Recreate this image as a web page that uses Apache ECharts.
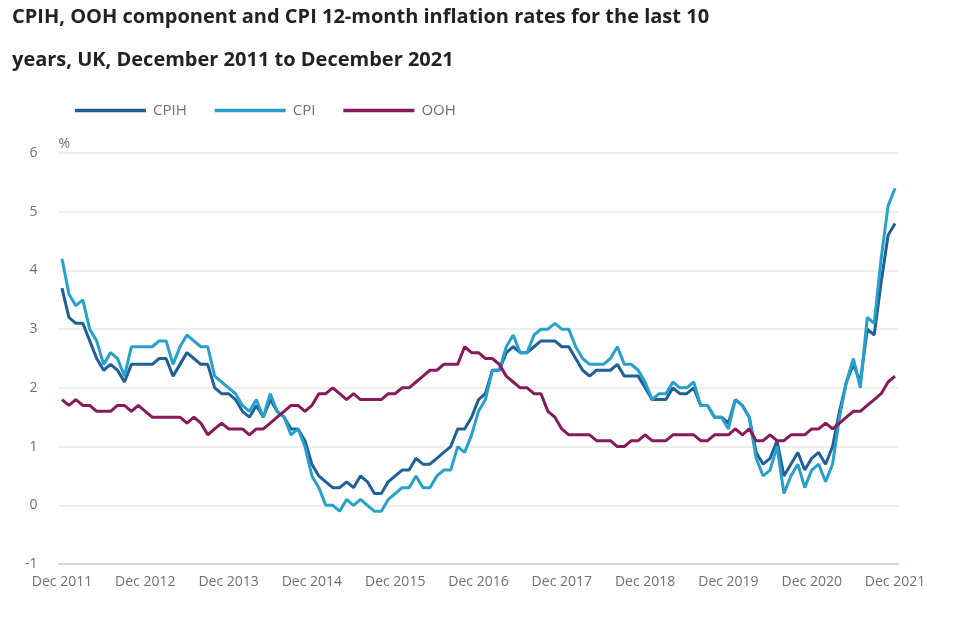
<!DOCTYPE html>
<html>
<head>
<meta charset="utf-8">
<script src="https://cdn.jsdelivr.net/npm/echarts@6/dist/echarts.min.js"></script>
<style>
html,body{margin:0;padding:0;background:#fff;}
#chart{width:960px;height:619px;}
</style>
</head>
<body>
<div id="chart"></div>
<script>
// Monthly categories, Dec 2011 to Dec 2021
const monthNames = ['Jan','Feb','Mar','Apr','May','Jun','Jul','Aug','Sep','Oct','Nov','Dec'];
const startYear = 2011, startMonth = 11, monthCount = 121;
const categories = [];
for (let i = 0; i < monthCount; i++) {
  const m = (startMonth + i) % 12;
  const y = startYear + Math.floor((startMonth + i) / 12);
  categories.push(monthNames[m] + ' ' + y);
}

const cpih = [
  3.7,
  3.2,3.1,3.1,2.8,2.5,2.3,2.4,2.3,2.1,2.4,2.4,2.4,
  2.4,2.5,2.5,2.2,2.4,2.6,2.5,2.4,2.4,2.0,1.9,1.9,
  1.8,1.6,1.5,1.7,1.5,1.8,1.6,1.5,1.3,1.3,1.1,0.7,
  0.5,0.4,0.3,0.3,0.4,0.3,0.5,0.4,0.2,0.2,0.4,0.5,
  0.6,0.6,0.8,0.7,0.7,0.8,0.9,1.0,1.3,1.3,1.5,1.8,
  1.9,2.3,2.3,2.6,2.7,2.6,2.6,2.7,2.8,2.8,2.8,2.7,
  2.7,2.5,2.3,2.2,2.3,2.3,2.3,2.4,2.2,2.2,2.2,2.0,
  1.8,1.8,1.8,2.0,1.9,1.9,2.0,1.7,1.7,1.5,1.5,1.4,
  1.8,1.7,1.5,0.9,0.7,0.8,1.1,0.5,0.7,0.9,0.6,0.8,
  0.9,0.7,1.0,1.6,2.1,2.4,2.1,3.0,2.9,3.8,4.6,4.8
];
const cpi = [
  4.2,
  3.6,3.4,3.5,3.0,2.8,2.4,2.6,2.5,2.2,2.7,2.7,2.7,
  2.7,2.8,2.8,2.4,2.7,2.9,2.8,2.7,2.7,2.2,2.1,2.0,
  1.9,1.7,1.6,1.8,1.5,1.9,1.6,1.5,1.2,1.3,1.0,0.5,
  0.3,0.0,0.0,-0.1,0.1,0.0,0.1,0.0,-0.1,-0.1,0.1,0.2,
  0.3,0.3,0.5,0.3,0.3,0.5,0.6,0.6,1.0,0.9,1.2,1.6,
  1.8,2.3,2.3,2.7,2.9,2.6,2.6,2.9,3.0,3.0,3.1,3.0,
  3.0,2.7,2.5,2.4,2.4,2.4,2.5,2.7,2.4,2.4,2.3,2.1,
  1.8,1.9,1.9,2.1,2.0,2.0,2.1,1.7,1.7,1.5,1.5,1.3,
  1.8,1.7,1.5,0.8,0.5,0.6,1.0,0.2,0.5,0.7,0.3,0.6,
  0.7,0.4,0.7,1.5,2.1,2.5,2.0,3.2,3.1,4.2,5.1,5.4
];
const ooh = [
  1.8,
  1.7,1.8,1.7,1.7,1.6,1.6,1.6,1.7,1.7,1.6,1.7,1.6,
  1.5,1.5,1.5,1.5,1.5,1.4,1.5,1.4,1.2,1.3,1.4,1.3,
  1.3,1.3,1.2,1.3,1.3,1.4,1.5,1.6,1.7,1.7,1.6,1.7,
  1.9,1.9,2.0,1.9,1.8,1.9,1.8,1.8,1.8,1.8,1.9,1.9,
  2.0,2.0,2.1,2.2,2.3,2.3,2.4,2.4,2.4,2.7,2.6,2.6,
  2.5,2.5,2.4,2.2,2.1,2.0,2.0,1.9,1.9,1.6,1.5,1.3,
  1.2,1.2,1.2,1.2,1.1,1.1,1.1,1.0,1.0,1.1,1.1,1.2,
  1.1,1.1,1.1,1.2,1.2,1.2,1.2,1.1,1.1,1.2,1.2,1.2,
  1.3,1.2,1.3,1.1,1.1,1.2,1.1,1.1,1.2,1.2,1.2,1.3,
  1.3,1.4,1.3,1.4,1.5,1.6,1.6,1.7,1.8,1.9,2.1,2.2
];
const yTicks = {min: -1, max: 6, interval: 1};
const seriesNames = ['CPIH', 'CPI', 'OOH'];
const seriesColors = ['#206095', '#27a0cc', '#871a5b'];

const chart = echarts.init(document.getElementById('chart'), null, {renderer: 'canvas'});
const FONT = '"Open Sans", "Noto Sans", sans-serif';
const GREY = '#707071';
const AXIS = '#c6d1e6';

chart.setOption({
  animation: false,
  title: {
    text: 'CPIH, OOH component and CPI 12-month inflation rates for the last 10\nyears, UK, December 2011 to December 2021',
    left: 12,
    top: -4,
    padding: 0,
    textStyle: {fontFamily: FONT, fontSize: 20, fontWeight: 'bold', color: '#222222', lineHeight: 43}
  },
  legend: {
    left: 75,
    top: 103,
    padding: 0,
    itemWidth: 71,
    itemHeight: 3.5,
    itemGap: 28,
    icon: 'rect',
    data: seriesNames,
    textStyle: {fontFamily: FONT, fontSize: 15, color: GREY, padding: [0, 0, 0, 2]}
  },
  grid: {left: 58.5, right: 61.5, top: 153, bottom: 55, containLabel: false},
  xAxis: {
    type: 'category',
    data: categories,
    boundaryGap: true,
    axisLine: {onZero: false, lineStyle: {color: AXIS, width: 1.5}},
    axisTick: {alignWithLabel: true, interval: 11, length: 10, lineStyle: {color: AXIS, width: 1.2}},
    axisLabel: {interval: 11, margin: 11, fontFamily: FONT, fontSize: 14, color: GREY},
    splitLine: {show: false}
  },
  yAxis: {
    type: 'value',
    min: yTicks.min,
    max: yTicks.max,
    interval: yTicks.interval,
    name: '%',
    nameLocation: 'end',
    nameGap: 9,
    nameTextStyle: {fontFamily: FONT, fontSize: 14, color: GREY, align: 'left', verticalAlign: 'middle'},
    axisLine: {show: false},
    axisTick: {show: false},
    axisLabel: {margin: 21, fontFamily: FONT, fontSize: 14, color: GREY},
    splitLine: {lineStyle: {color: '#e8e8e8', width: 1.6}}
  },
  series: seriesNames.map((name, i) => ({
    name: name,
    type: 'line',
    data: [cpih, cpi, ooh][i],
    showSymbol: false,
    symbol: 'none',
    smooth: false,
    color: seriesColors[i],
    lineStyle: {color: seriesColors[i], width: 3},
    emphasis: {disabled: true}
  }))
});
</script>
</body>
</html>
